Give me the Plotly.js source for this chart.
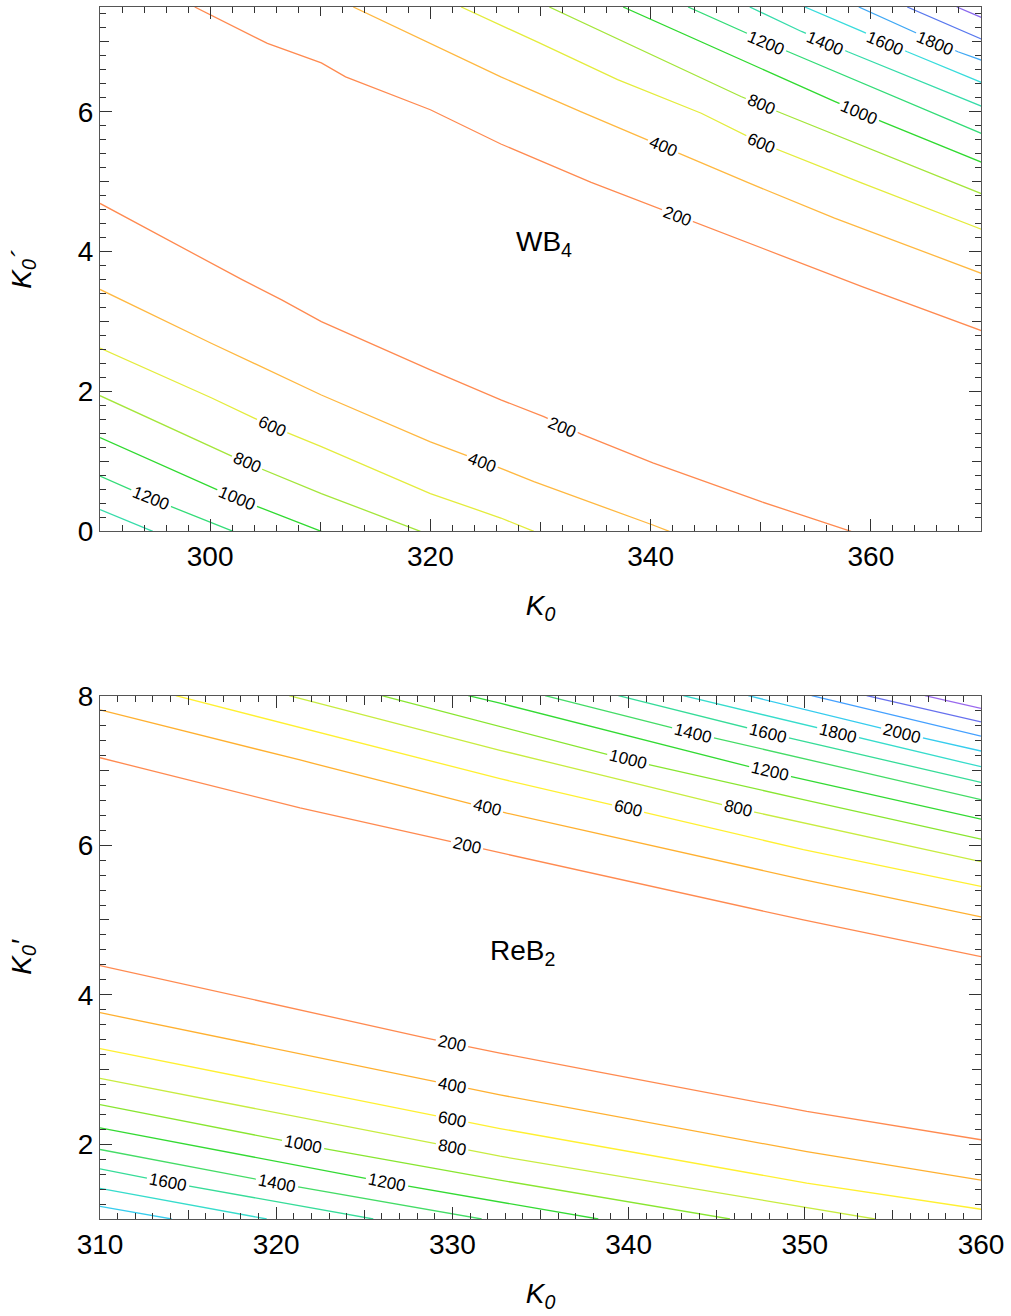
<!DOCTYPE html>
<html>
<head>
<meta charset="utf-8">
<script src="https://cdn.plot.ly/plotly-3.0.1.min.js"></script>
<style>
  html, body { margin: 0; padding: 0; background: #ffffff; }
  #chart { width: 1011px; height: 1316px; }
</style>
</head>
<body>
<div id="chart"></div>
<script>
// ---------------- WB4 (top panel) ----------------
const wb4LowLevels = [200, 400, 600, 800, 1000, 1200, 1400];
const wb4LowX = [
  [290, 300.1, 302.9, 306.5, 310.1, 320.0, 326.4, 330.3, 333.7, 340.2, 350.1, 358.2],
  [290, 300.1, 310.1, 320.0, 326.4, 329.4, 340.2, 341.7],
  [290, 300.1, 305.6, 310.1, 320.0, 326.4, 329.4],
  [290, 303.3, 310.1, 319.1],
  [290, 302.4, 310.1],
  [290, 294.6, 302.1],
  [290, 294.8]
];
const wb4LowY = [
  [4.69, 3.83, 3.60, 3.31, 3.00, 2.31, 1.88, 1.64, 1.39, 0.98, 0.42, 0],
  [3.46, 2.69, 1.95, 1.28, 0.90, 0.71, 0.09, 0],
  [2.62, 1.91, 1.50, 1.21, 0.54, 0.19, 0],
  [1.94, 0.98, 0.54, 0],
  [1.34, 0.47, 0],
  [0.79, 0.47, 0],
  [0.31, 0]
];
const wb4UpLevels = [200, 400, 600, 800, 1000, 1200, 1400, 1600, 1800, 2000, 2200];
const wb4UpX = [
  [298.6, 305.2, 310.1, 312.3, 320.0, 326.4, 334.6, 340.7, 344.3, 359.2, 370.2],
  [313.0, 319.7, 326.4, 333.7, 341.1, 348.8, 356.7, 370.2],
  [322.8, 326.4, 329.7, 337.0, 344.6, 350.1, 359.2, 370.2],
  [330.8, 348.2, 351.9, 370.2],
  [337.5, 356.7, 361.0, 370.2],
  [343.4, 348.4, 352.5, 370.2],
  [349.0, 353.7, 357.9, 370.2],
  [354.0, 359.2, 363.3, 370.2],
  [358.9, 363.9, 367.9, 370.2],
  [363.3, 370.2],
  [367.8, 370.2]
];
const wb4UpY = [
  [7.5, 6.98, 6.70, 6.50, 6.03, 5.54, 4.99, 4.62, 4.40, 3.50, 2.86],
  [7.5, 7.00, 6.50, 6.00, 5.50, 4.99, 4.48, 3.68],
  [7.5, 7.24, 7.00, 6.46, 5.98, 5.55, 4.98, 4.31],
  [7.5, 6.22, 5.98, 4.82],
  [7.5, 6.15, 5.86, 5.27],
  [7.5, 7.15, 6.86, 5.68],
  [7.5, 7.15, 6.86, 6.07],
  [7.5, 7.15, 6.86, 6.41],
  [7.5, 7.15, 6.86, 6.73],
  [7.5, 7.03],
  [7.5, 7.34]
];
const wb4Colors = {200: '#FF8A50', 400: '#FFB840', 600: '#E4EC3C', 800: '#A4E63A', 1000: '#30DA30',
  1200: '#33DC77', 1400: '#36DCAA', 1600: '#38DCDC', 1800: '#40A8F4', 2000: '#5878EE', 2200: '#8A68EE'};
const wb4LabText  = ['200', '400', '600', '800', '1000', '1200', '200', '400', '600', '800', '1000', '1200', '1400', '1600', '1800'];
const wb4LabX     = [331.95, 324.67, 305.62, 303.34, 302.43, 294.64, 342.41, 341.11, 350.05, 350.05, 358.88, 350.51, 355.81, 361.27, 365.82];
const wb4LabY     = [1.49, 0.99, 1.50, 0.98, 0.47, 0.47, 4.50, 5.50, 5.55, 6.10, 5.99, 6.98, 6.98, 6.98, 6.98];
const wb4LabAngle = [23, 21, 24, 24, 23, 22, 21, 23, 23, 23, 23, 23, 23, 23, 23];

// ---------------- ReB2 (bottom panel) ----------------
const reb2LowLevels = [200, 400, 600, 800, 1000, 1200, 1400, 1600, 1800, 2000];
const reb2LowX = [
  [310, 328.73, 332.70, 338.19, 350.11, 360],
  [310, 328.73, 332.70, 350.11, 360],
  [310, 328.73, 332.70, 350.11, 360],
  [310, 328.73, 332.70, 353.98],
  [310, 320.03, 322.96, 332.70, 345.75],
  [310, 326.27, 338.28],
  [310, 320.03, 331.66],
  [310, 313.88, 325.51],
  [310, 319.46],
  [310, 314.07]
];
const reb2LowY = [
  [4.39, 3.41, 3.22, 2.97, 2.44, 2.06],
  [3.76, 2.85, 2.66, 1.90, 1.52],
  [3.28, 2.39, 2.21, 1.48, 1.13],
  [2.88, 2.02, 1.84, 1.0],
  [2.53, 2.06, 1.93, 1.52, 1.0],
  [2.22, 1.49, 1.0],
  [1.93, 1.48, 1.0],
  [1.67, 1.49, 1.0],
  [1.41, 1.0],
  [1.17, 1.0]
];
const reb2UpLevels = [200, 400, 600, 800, 1000, 1200, 1400, 1600, 1800, 2000, 2200, 2400, 2600];
const reb2UpX = [
  [310, 321.35, 330.81, 332.70, 349.92, 360],
  [310, 321.35, 331.95, 333.08, 349.92, 360],
  [314.30, 332.70, 339.98, 349.92, 360],
  [320.73, 332.70, 346.23, 360],
  [325.99, 332.70, 339.98, 349.92, 360],
  [330.90, 332.70, 348.03, 360],
  [335.26, 343.67, 360],
  [339.42, 347.93, 360],
  [343.10, 351.90, 360],
  [346.79, 355.50, 360],
  [350.39, 360],
  [353.51, 360],
  [356.82, 360]
];
const reb2UpY = [
  [7.17, 6.50, 6.00, 5.90, 5.00, 4.51],
  [7.81, 7.14, 6.50, 6.43, 5.54, 5.04],
  [8.0, 6.89, 6.49, 5.94, 5.45],
  [8.0, 7.27, 6.49, 5.78],
  [8.0, 7.59, 7.14, 6.61, 6.08],
  [8.0, 7.90, 6.98, 6.35],
  [8.0, 7.50, 6.61],
  [8.0, 7.50, 6.84],
  [8.0, 7.50, 7.05],
  [8.0, 7.50, 7.26],
  [8.0, 7.46],
  [8.0, 7.65],
  [8.0, 7.83]
];
const reb2Colors = {200: '#FF8A50', 400: '#FFB030', 600: '#FFF030', 800: '#C8EC40', 1000: '#88E630',
  1200: '#33DA33', 1400: '#44DC66', 1600: '#36DC99', 1800: '#36DCCC', 2000: '#36CCEE',
  2200: '#44A0FF', 2400: '#6670EE', 2600: '#9A68EE'};
const reb2LabText  = ['200', '400', '600', '800', '1000', '1200', '1400', '1600', '200', '400', '600', '800', '1000', '1200', '1400', '1600', '1800', '2000'];
const reb2LabX     = [329.96, 329.96, 329.96, 329.96, 321.54, 326.27, 320.03, 313.88, 330.81, 331.95, 339.98, 346.23, 339.98, 348.03, 343.67, 347.93, 351.90, 355.50];
const reb2LabY     = [3.35, 2.79, 2.33, 1.96, 1.99, 1.49, 1.48, 1.49, 6.00, 6.50, 6.49, 6.49, 7.14, 6.98, 7.50, 7.50, 7.50, 7.50];
const reb2LabAngle = [12, 11, 11, 11, 11, 11, 11, 11, 13, 14, 13, 13, 14, 13, 14, 14, 14, 14];

// ---------------- build ----------------
const FONT = 'Liberation Sans, Arial, Helvetica, sans-serif';
const traces = [];
function addLines(levels, xs, ys, colors, xa, ya) {
  levels.forEach((lv, i) => {
    traces.push({
      type: 'scatter', mode: 'lines', x: xs[i], y: ys[i],
      xaxis: xa, yaxis: ya, hoverinfo: 'skip', showlegend: false,
      line: {color: colors[lv], width: 1.3}
    });
  });
}
addLines(wb4LowLevels, wb4LowX, wb4LowY, wb4Colors, 'x', 'y');
addLines(wb4UpLevels, wb4UpX, wb4UpY, wb4Colors, 'x', 'y');
addLines(reb2LowLevels, reb2LowX, reb2LowY, reb2Colors, 'x2', 'y2');
addLines(reb2UpLevels, reb2UpX, reb2UpY, reb2Colors, 'x2', 'y2');
// dummy traces for the medium-tick overlay axes
traces.push({type: 'scatter', x: [null], y: [null], xaxis: 'x3', yaxis: 'y3', showlegend: false, hoverinfo: 'skip'});
traces.push({type: 'scatter', x: [null], y: [null], xaxis: 'x4', yaxis: 'y4', showlegend: false, hoverinfo: 'skip'});

const annotations = [];
function addLabels(txt, xs, ys, ang, xref, yref) {
  txt.forEach((t, i) => {
    annotations.push({
      x: xs[i], y: ys[i], xref: xref, yref: yref, text: t, textangle: ang[i],
      showarrow: false, bgcolor: '#ffffff', borderpad: 2,
      font: {family: FONT, size: 17, color: '#000'}
    });
  });
}
addLabels(wb4LabText, wb4LabX, wb4LabY, wb4LabAngle, 'x', 'y');
addLabels(reb2LabText, reb2LabX, reb2LabY, reb2LabAngle, 'x2', 'y2');
annotations.push({x: 330.3, y: 4.12, xref: 'x', yref: 'y', text: 'WB<sub>4</sub>', showarrow: false,
  font: {family: FONT, size: 28, color: '#000'}});
annotations.push({x: 333.95, y: 4.56, xref: 'x2', yref: 'y2', text: 'ReB<sub>2</sub>', showarrow: false,
  font: {family: FONT, size: 28, color: '#000'}});

const XD = [100 / 1011, 981 / 1011];
const YD1 = [1 - 531.3 / 1316, 1 - 7 / 1316];
const YD2 = [1 - 1219 / 1316, 1 - 695.7 / 1316];
const TICKC = '#333';
function baseAxis(extra) {
  return Object.assign({
    showgrid: false, zeroline: false, showline: true, linecolor: '#555', linewidth: 1,
    mirror: 'ticks', ticks: 'inside', ticklen: 12, tickwidth: 1, tickcolor: TICKC,
    tickfont: {family: FONT, size: 28, color: '#000'}, fixedrange: true
  }, extra);
}
function medAxis(extra) {
  return Object.assign({
    showgrid: false, zeroline: false, showline: false, mirror: 'ticks',
    ticks: 'inside', ticklen: 9, tickwidth: 1, tickcolor: TICKC, showticklabels: false, fixedrange: true
  }, extra);
}
const titleFont = {family: FONT, size: 28, color: '#000'};

const layout = {
  width: 1011, height: 1316, margin: {l: 0, r: 0, t: 0, b: 0},
  paper_bgcolor: '#ffffff', plot_bgcolor: '#ffffff', showlegend: false,
  xaxis: baseAxis({domain: XD, anchor: 'y', range: [290, 370], tick0: 300, dtick: 20,
    minor: {ticks: 'inside', ticklen: 6, dtick: 2, tick0: 290, tickcolor: TICKC, showgrid: false},
    title: {text: '<i>K<sub>0</sub></i>', font: titleFont, standoff: 24}}),
  yaxis: baseAxis({domain: YD1, anchor: 'x', range: [0, 7.5], tick0: 0, dtick: 2,
    minor: {ticks: 'inside', ticklen: 6, dtick: 0.2, tick0: 0, tickcolor: TICKC, showgrid: false},
    title: {text: '<i>K<sub>0</sub>´</i>', font: titleFont, standoff: 38}}),
  xaxis3: medAxis({domain: XD, anchor: 'y', overlaying: 'x', range: [290, 370], tickvals: [310, 330, 350]}),
  yaxis3: medAxis({domain: YD1, anchor: 'x', overlaying: 'y', range: [0, 7.5], tickvals: [1, 3, 5, 7]}),
  xaxis2: baseAxis({domain: XD, anchor: 'y2', range: [310, 360], tick0: 310, dtick: 10,
    minor: {ticks: 'inside', ticklen: 6, dtick: 1, tick0: 310, tickcolor: TICKC, showgrid: false},
    title: {text: '<i>K<sub>0</sub></i>', font: titleFont, standoff: 24}}),
  yaxis2: baseAxis({domain: YD2, anchor: 'x2', range: [1, 8], tick0: 0, dtick: 2,
    minor: {ticks: 'inside', ticklen: 6, dtick: 0.2, tick0: 0, tickcolor: TICKC, showgrid: false},
    title: {text: '<i>K<sub>0</sub>′</i>', font: titleFont, standoff: 38}}),
  xaxis4: medAxis({domain: XD, anchor: 'y2', overlaying: 'x2', range: [310, 360], tickvals: [315, 325, 335, 345, 355]}),
  yaxis4: medAxis({domain: YD2, anchor: 'x2', overlaying: 'y2', range: [1, 8], tickvals: [3, 5, 7]}),
  annotations: annotations
};

Plotly.newPlot('chart', traces, layout, {displayModeBar: false, staticPlot: true});
</script>
</body>
</html>
